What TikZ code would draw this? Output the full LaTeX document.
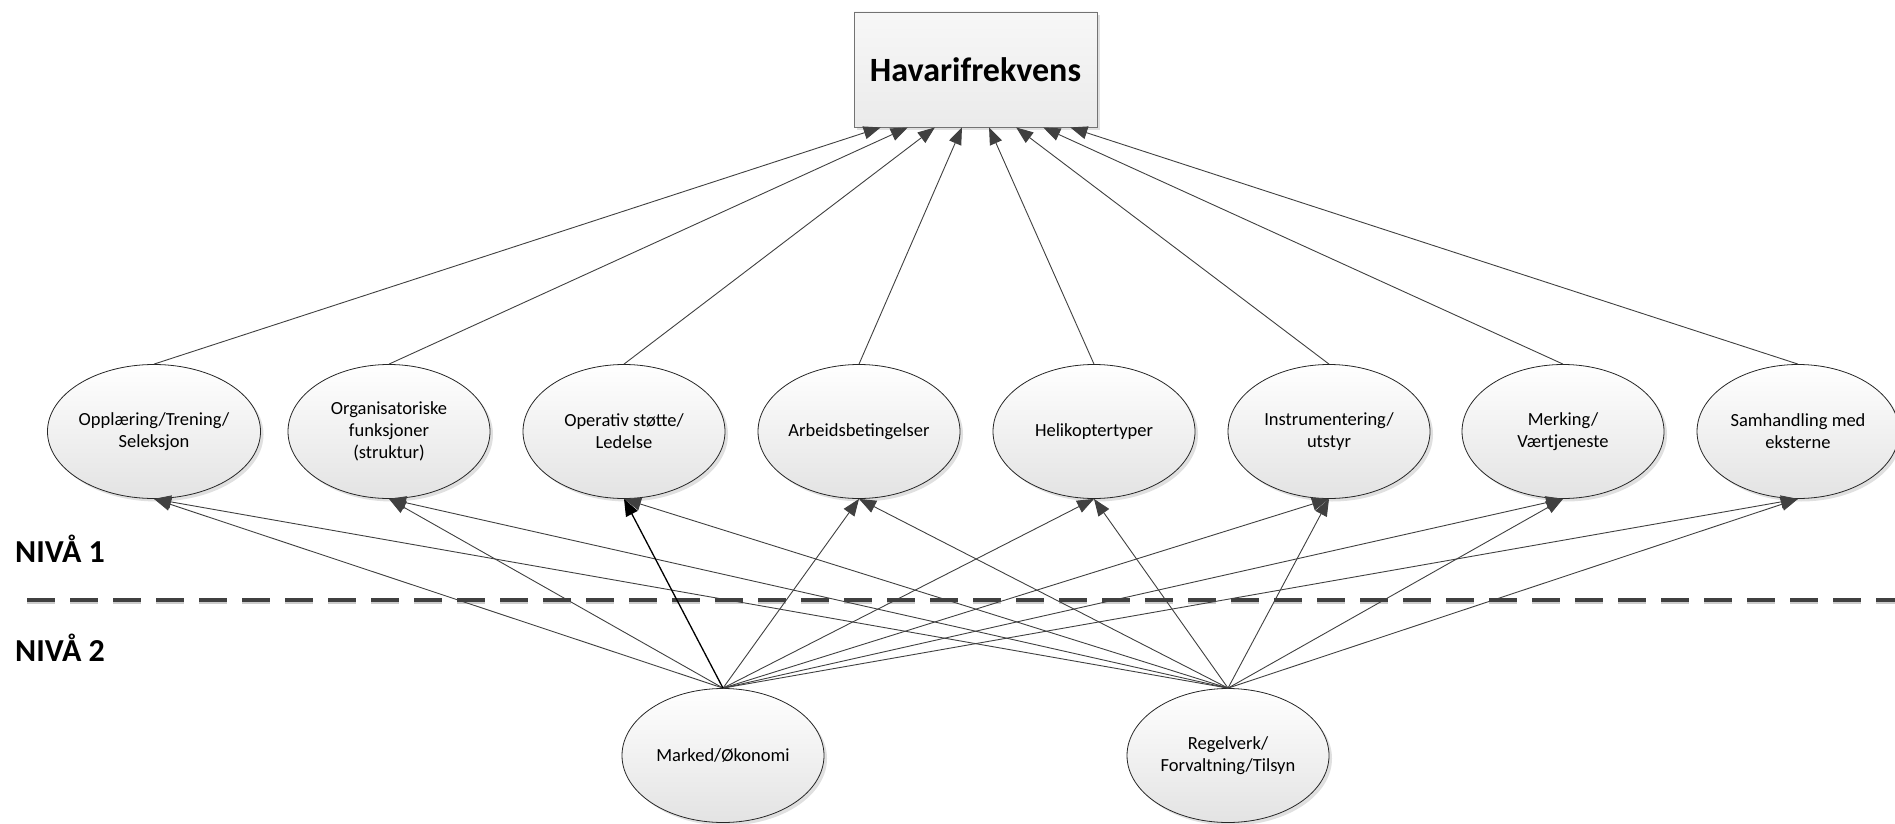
\documentclass[tikz,border=0pt]{standalone}
\usepackage{fontspec}
\setmainfont{Carlito}
\usetikzlibrary{shapes.geometric,arrows.meta,shadows}

\begin{document}
\begin{tikzpicture}[x=1pt,y=-1pt,
    factor/.style={ellipse, draw=black!85, line width=0.8pt, top color=white, bottom color=black!11,
        minimum width=202pt, minimum height=134pt, inner sep=0pt, align=center,
        font=\fontsize{18.5}{22}\selectfont,
        drop shadow={shadow xshift=3pt, shadow yshift=-3pt, fill=black!35, opacity=0.35}},
    topbox/.style={rectangle, draw=black!55, line width=0.9pt, top color=black!3, bottom color=black!8,
        minimum width=243pt, minimum height=115pt, font=\fontsize{34}{40}\selectfont\bfseries,
        drop shadow={shadow xshift=3pt, shadow yshift=-3pt, fill=black!35, opacity=0.35}},
    conn/.style={draw=black!75, line width=0.9pt, -{Triangle[length=17pt,width=13pt]}},
    level/.style={anchor=base west, inner sep=0pt, font=\fontsize{32}{38}\selectfont\bfseries}]

    \useasboundingbox (0,0) rectangle (1895,824);

    % Level divider
    \coordinate (dl) at (27,600);
    \coordinate (dr) at (1895,600);
    \draw[black!20, line width=4.5pt, dash pattern=on 28pt off 15pt] ([yshift=-2pt]dl) -- ([yshift=-2pt]dr); % shadow
    \draw[black!75, line width=4.5pt, dash pattern=on 28pt off 15pt] (dl) -- (dr);
    \node[level] (niva1) at (15,562) {NIVÅ 1};
    \node[level] (niva2) at (15,661) {NIVÅ 2};

    % Top event
    \node[topbox] (top) at (975.5,69.5) {Havarifrekvens};

    % Level 1 factors
    \node[factor] (e1) at (154,431.5) {Opplæring/Trening/\\Seleksjon};
    \node[factor] (e2) at (389,431.5) {Organisatoriske\\funksjoner\\(struktur)};
    \node[factor] (e3) at (624,431.5) {Operativ støtte/\\Ledelse};
    \node[factor] (e4) at (859,431.5) {Arbeidsbetingelser};
    \node[factor] (e5) at (1094,431.5) {Helikoptertyper};
    \node[factor] (e6) at (1329,431.5) {Instrumentering/\\utstyr};
    \node[factor] (e7) at (1563,431.5) {Merking/\\Værtjeneste};
    \node[factor] (e8) at (1798,431.5) {Samhandling med\\eksterne};

    % Level 2 factors
    \node[factor] (mk) at (723,755.5) {Marked/Økonomi};
    \node[factor] (rv) at (1228,755.5) {Regelverk/\\Forvaltning/Tilsyn};

    % Level 1 -> top event
    \foreach \i in {1,...,8}
        \draw[conn] (e\i.north) -- ([xshift={(\i-4.5)*27.1pt}]top.south);

    % Level 2 -> level 1
    \foreach \i in {1,2,4,5,6,7,8}
        \draw[conn] (mk.north) -- (e\i.south);
    \foreach \i in {1,...,8}
        \draw[conn] (rv.north) -- (e\i.south);
    \draw[conn, draw=black, line width=1.3pt] (mk.north) -- (e3.south); % highlighted

\end{tikzpicture}
\end{document}
